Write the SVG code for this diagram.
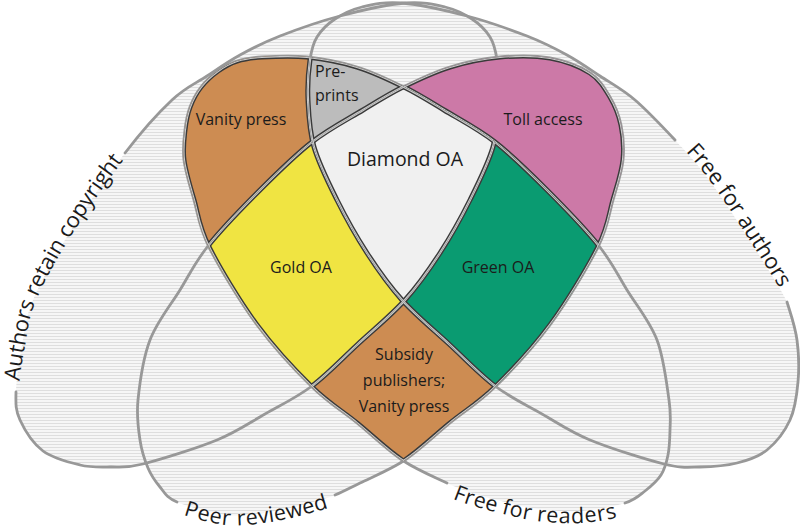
<svg xmlns="http://www.w3.org/2000/svg" width="800" height="529" viewBox="0 0 800 529">
<defs>
<style>
.ol{fill:none;stroke:#989898;stroke-width:2.8;stroke-linecap:round}
text{font-family:"Open Sans","Noto Sans","DejaVu Sans",sans-serif;fill:#1b1b1b}
.in{font-size:16px;text-anchor:middle}
.setA{font-size:22px;text-anchor:middle}
.setB{font-size:21.5px;text-anchor:middle}
</style>
<pattern id="hatch" width="8" height="3" patternUnits="userSpaceOnUse">
<rect width="8" height="3" fill="#f6f6f6"/><rect width="8" height="1" fill="#dedede"/>
</pattern>
<path id="pA" d="M16,392 C16.3,379.5 19.2,360.3 22,345 C24.8,329.7 25.3,318.3 33,300 C40.7,281.7 52.7,259.5 68,235 C83.3,210.5 107.7,175.5 125,153 C142.3,130.5 158.3,112.8 172,100 C185.7,87.2 195.7,83.5 207,76 C218.3,68.5 227.8,61.7 240,55 C252.2,48.3 263.3,42.5 280,36 C296.7,29.5 319.2,21.5 340,16 C360.8,10.5 387.5,4.5 405,3 C422.5,1.5 433.8,4.3 445,7 C456.2,9.7 464.5,14 472,19 C479.5,24 485.8,30.2 490,37 C494.2,43.8 495.5,49.5 497,60 C498.5,70.5 499.7,85.5 499,100 C498.3,114.5 497.8,130.3 493,147 C488.2,163.7 478.8,182.3 470,200 C461.2,217.7 450.8,236.3 440,253 C429.2,269.7 418.7,284.8 405,300 C391.3,315.2 373.5,329.7 358,344 C342.5,358.3 327.5,374.3 312,386 C296.5,397.7 280.8,405 265,414 C249.2,423 237.3,431.7 217,440 C196.7,448.3 160.8,459.5 143,464 C125.2,468.5 120.5,466.8 110,467 C99.5,467.2 91.2,467.7 80,465 C68.8,462.3 53,458.5 43,451 C33,443.5 24.5,429.8 20,420 C15.5,410.2 15.7,404.5 16,392 Z"/>
<path id="pB" d="M177,502 C188.2,506.7 211.5,513.3 227,515 C242.5,516.7 256.2,514 270,512 C283.8,510 299.2,505.8 310,503 C320.8,500.2 326.7,498.3 335,495 C343.3,491.7 348.3,488.8 360,483 C371.7,477.2 390,470 405,460 C420,450 435,435.2 450,423 C465,410.8 478.3,403.3 495,387 C511.7,370.7 532.8,348.3 550,325 C567.2,301.7 587.5,267.8 598,247 C608.5,226.2 608.8,214.5 613,200 C617.2,185.5 621.7,172.5 623,160 C624.3,147.5 623.2,135.5 621,125 C618.8,114.5 615.2,105.7 610,97 C604.8,88.3 600,79.5 590,73 C580,66.5 565,60.7 550,58 C535,55.3 516.7,55.5 500,57 C483.3,58.5 466.2,62 450,67 C433.8,72 417.5,79.8 403,87 C388.5,94.2 378.2,100.8 363,110 C347.8,119.2 329.2,128.7 312,142 C294.8,155.3 277.3,172.7 260,190 C242.7,207.3 221.3,229.3 208,246 C194.7,262.7 189.7,274.3 180,290 C170.3,305.7 157,321.7 150,340 C143,358.3 139.7,383.3 138,400 C136.3,416.7 138.3,428.7 140,440 C141.7,451.3 144.7,460.2 148,468 C151.3,475.8 155.2,481.3 160,487 C164.8,492.7 165.8,497.3 177,502 Z"/>
<path id="pC" d="M447,483 C458.7,488.5 463.7,490.2 472,493 C480.3,495.8 486,497.3 497,500 C508,502.7 523.8,507.2 538,509 C552.2,510.8 567.5,512 582,511 C596.5,510 614.5,506.3 625,503 C635.5,499.7 639,495.7 645,491 C651,486.3 657.2,481 661,475 C664.8,469 666.5,462.5 668,455 C669.5,447.5 669.8,439.2 670,430 C670.2,420.8 671.2,415 669,400 C666.8,385 664,358.3 657,340 C650,321.7 636.7,305.7 627,290 C617.3,274.3 612.3,262.7 599,246 C585.7,229.3 564.3,207.3 547,190 C529.7,172.7 512.2,155.3 495,142 C477.8,128.7 459.2,119.2 444,110 C428.8,100.8 418.5,94.2 404,87 C389.5,79.8 373.2,72 357,67 C340.8,62 322.8,58.7 307,57 C291.2,55.3 273.7,56.3 262,57 C250.3,57.7 244.3,58.7 237,61 C229.7,63.3 224,66.7 218,71 C212,75.3 205.7,81 201,87 C196.3,93 192.7,99.8 190,107 C187.3,114.2 186,121.2 185,130 C184,138.8 182.5,148.3 184,160 C185.5,171.7 189.8,185.5 194,200 C198.2,214.5 198.5,226.2 209,247 C219.5,267.8 239.8,301.7 257,325 C274.2,348.3 295.3,370.7 312,387 C328.7,403.3 342,410.8 357,423 C372,435.2 387,450 402,460 C417,470 435.3,477.5 447,483 Z"/>
<path id="pD" d="M675,140 C687,152.8 695.7,162 707,177 C718.3,192 729.7,209.2 743,230 C756.3,250.8 778,283.7 787,302 C792.5,319.5 795.2,326.7 797,340 C798.8,353.3 799.2,368.7 798,382 C796.8,395.3 795.2,408.7 790,420 C784.8,431.3 775.8,442.8 767,450 C758.2,457.2 748.2,460.2 737,463 C725.8,465.8 712.2,466.8 700,467 C687.8,467.2 682.3,468.5 664,464 C645.7,459.5 610.3,448.3 590,440 C569.7,431.7 557.8,423 542,414 C526.2,405 510.5,397.7 495,386 C479.5,374.3 464.5,358.3 449,344 C433.5,329.7 415.7,315.2 402,300 C388.3,284.8 377.8,269.7 367,253 C356.2,236.3 345.8,217.7 337,200 C328.2,182.3 318.8,163.7 314,147 C309.2,130.3 308.7,114.5 308,100 C307.3,85.5 308.5,70.5 310,60 C311.5,49.5 312.8,43.8 317,37 C321.2,30.2 327.5,24 335,19 C342.5,14 350.8,9.7 362,7 C373.2,4.3 384.5,1.5 402,3 C419.5,4.5 446.2,10.5 467,16 C487.8,21.5 510.3,29.5 527,36 C543.7,42.5 554.8,48.3 567,55 C579.2,61.7 588.7,68.5 600,76 C611.3,83.5 622.5,89.3 635,100 C647.5,110.7 663,127.2 675,140 Z"/>
<path id="lA" d="M16,392 C16.3,379.5 19.2,360.3 22,345 C24.8,329.7 25.3,318.3 33,300 C40.7,281.7 52.7,259.5 68,235 C83.3,210.5 107.7,175.5 125,153 C142.3,130.5 158.3,112.8 172,100"/>
<path id="lB" d="M177,502 C188.2,506.7 211.5,513.3 227,515 C242.5,516.7 256.2,514 270,512 C283.8,510 299.2,505.8 310,503 C320.8,500.2 326.7,498.3 335,495"/>
<path id="lC" d="M447,483 C458.7,488.5 463.7,490.2 472,493 C480.3,495.8 486,497.3 497,500 C508,502.7 523.8,507.2 538,509 C552.2,510.8 567.5,512 582,511 C596.5,510 614.5,506.3 625,503"/>
<path id="lD" d="M675,140 C687,152.8 695.7,162 707,177 C718.3,192 729.7,209.2 743,230 C756.3,250.8 778,283.7 787,302"/>
<clipPath id="cA"><use href="#pA"/></clipPath>
<clipPath id="cB"><use href="#pB"/></clipPath>
<clipPath id="cC"><use href="#pC"/></clipPath>
<clipPath id="cD"><use href="#pD"/></clipPath>
<g id="E4" fill="none">
<g stroke="#3a3a3a" stroke-width="5"><use href="#pA"/><use href="#pB"/><use href="#pC"/><use href="#pD"/></g>
<g stroke="#c8c8c8" stroke-width="2.2"><use href="#pA"/><use href="#pB"/><use href="#pC"/><use href="#pD"/></g>
</g>
<g id="E3" fill="none">
<g stroke="#3a3a3a" stroke-width="5"><use href="#pB"/><use href="#pC"/><use href="#pD"/></g>
<g stroke="#c8c8c8" stroke-width="2.2"><use href="#pB"/><use href="#pC"/><use href="#pD"/></g>
</g>
</defs>

<rect width="800" height="529" fill="#ffffff"/>

<g id="sets">
<g id="set-authors-retain-copyright"><use href="#pA" fill="url(#hatch)"/></g>
<g id="set-peer-reviewed"><use href="#pB" fill="url(#hatch)"/></g>
<g id="set-free-for-readers"><use href="#pC" fill="url(#hatch)"/></g>
<g id="set-free-for-authors"><use href="#pD" fill="url(#hatch)"/></g>
</g>

<g id="connectors">
<path class="ol" d="M125,153 C142.3,130.5 158.3,112.8 172,100 C185.7,87.2 195.7,83.5 207,76 C218.3,68.5 227.8,61.7 240,55 C252.2,48.3 263.3,42.5 280,36 C296.7,29.5 319.2,21.5 340,16 C360.8,10.5 387.5,4.5 405,3 C422.5,1.5 433.8,4.3 445,7 C456.2,9.7 464.5,14 472,19 C479.5,24 485.8,30.2 490,37 C494.2,43.8 495.5,49.5 497,60 C498.5,70.5 499.7,85.5 499,100 C498.3,114.5 497.8,130.3 493,147 C488.2,163.7 478.8,182.3 470,200 C461.2,217.7 450.8,236.3 440,253 C429.2,269.7 418.7,284.8 405,300 C391.3,315.2 373.5,329.7 358,344 C342.5,358.3 327.5,374.3 312,386 C296.5,397.7 280.8,405 265,414 C249.2,423 237.3,431.7 217,440 C196.7,448.3 160.8,459.5 143,464 C125.2,468.5 120.5,466.8 110,467 C99.5,467.2 91.2,467.7 80,465 C68.8,462.3 53,458.5 43,451 C33,443.5 24.5,429.8 20,420 C15.5,410.2 15.7,404.5 16,392"/>
<path class="ol" d="M335,495 C343.3,491.7 348.3,488.8 360,483 C371.7,477.2 390,470 405,460 C420,450 435,435.2 450,423 C465,410.8 478.3,403.3 495,387 C511.7,370.7 532.8,348.3 550,325 C567.2,301.7 587.5,267.8 598,247 C608.5,226.2 608.8,214.5 613,200 C617.2,185.5 621.7,172.5 623,160 C624.3,147.5 623.2,135.5 621,125 C618.8,114.5 615.2,105.7 610,97 C604.8,88.3 600,79.5 590,73 C580,66.5 565,60.7 550,58 C535,55.3 516.7,55.5 500,57 C483.3,58.5 466.2,62 450,67 C433.8,72 417.5,79.8 403,87 C388.5,94.2 378.2,100.8 363,110 C347.8,119.2 329.2,128.7 312,142 C294.8,155.3 277.3,172.7 260,190 C242.7,207.3 221.3,229.3 208,246 C194.7,262.7 189.7,274.3 180,290 C170.3,305.7 157,321.7 150,340 C143,358.3 139.7,383.3 138,400 C136.3,416.7 138.3,428.7 140,440 C141.7,451.3 144.7,460.2 148,468 C151.3,475.8 155.2,481.3 160,487 C164.8,492.7 165.8,497.3 177,502"/>
<path class="ol" d="M625,503 C635.5,499.7 639,495.7 645,491 C651,486.3 657.2,481 661,475 C664.8,469 666.5,462.5 668,455 C669.5,447.5 669.8,439.2 670,430 C670.2,420.8 671.2,415 669,400 C666.8,385 664,358.3 657,340 C650,321.7 636.7,305.7 627,290 C617.3,274.3 612.3,262.7 599,246 C585.7,229.3 564.3,207.3 547,190 C529.7,172.7 512.2,155.3 495,142 C477.8,128.7 459.2,119.2 444,110 C428.8,100.8 418.5,94.2 404,87 C389.5,79.8 373.2,72 357,67 C340.8,62 322.8,58.7 307,57 C291.2,55.3 273.7,56.3 262,57 C250.3,57.7 244.3,58.7 237,61 C229.7,63.3 224,66.7 218,71 C212,75.3 205.7,81 201,87 C196.3,93 192.7,99.8 190,107 C187.3,114.2 186,121.2 185,130 C184,138.8 182.5,148.3 184,160 C185.5,171.7 189.8,185.5 194,200 C198.2,214.5 198.5,226.2 209,247 C219.5,267.8 239.8,301.7 257,325 C274.2,348.3 295.3,370.7 312,387 C328.7,403.3 342,410.8 357,423 C372,435.2 387,450 402,460 C417,470 435.3,477.5 447,483"/>
<path class="ol" d="M787,302 C792.5,319.5 795.2,326.7 797,340 C798.8,353.3 799.2,368.7 798,382 C796.8,395.3 795.2,408.7 790,420 C784.8,431.3 775.8,442.8 767,450 C758.2,457.2 748.2,460.2 737,463 C725.8,465.8 712.2,466.8 700,467 C687.8,467.2 682.3,468.5 664,464 C645.7,459.5 610.3,448.3 590,440 C569.7,431.7 557.8,423 542,414 C526.2,405 510.5,397.7 495,386 C479.5,374.3 464.5,358.3 449,344 C433.5,329.7 415.7,315.2 402,300 C388.3,284.8 377.8,269.7 367,253 C356.2,236.3 345.8,217.7 337,200 C328.2,182.3 318.8,163.7 314,147 C309.2,130.3 308.7,114.5 308,100 C307.3,85.5 308.5,70.5 310,60 C311.5,49.5 312.8,43.8 317,37 C321.2,30.2 327.5,24 335,19 C342.5,14 350.8,9.7 362,7 C373.2,4.3 384.5,1.5 402,3 C419.5,4.5 446.2,10.5 467,16 C487.8,21.5 510.3,29.5 527,36 C543.7,42.5 554.8,48.3 567,55 C579.2,61.7 588.7,68.5 600,76 C611.3,83.5 622.5,89.3 635,100 C647.5,110.7 663,127.2 675,140"/>
</g>

<g id="set-labels">
<text class="setA" dy="3"><textPath href="#lA" startOffset="136">Authors retain copyright</textPath></text>
<text class="setA" dy="0"><textPath href="#lD" startOffset="50%">Free for authors</textPath></text>
<text class="setB" dy="10"><textPath href="#lB" startOffset="50%">Peer reviewed</textPath></text>
<text class="setB" dy="12"><textPath href="#lC" startOffset="50%">Free for readers</textPath></text>
</g>

<g id="toll-access">
<g clip-path="url(#cB)"><g clip-path="url(#cD)"><rect width="800" height="529" fill="#cc79a7"/><use href="#E3"/></g></g>
<text class="in" x="543" y="125">Toll access</text>
</g>
<g id="vanity-press">
<g clip-path="url(#cA)"><g clip-path="url(#cC)"><rect width="800" height="529" fill="#cd8c52"/><use href="#E4"/></g></g>
<text class="in" x="241" y="125">Vanity press</text>
</g>
<g id="subsidy-publishers">
<g clip-path="url(#cB)"><g clip-path="url(#cC)"><rect width="800" height="529" fill="#cd8c52"/><use href="#E4"/></g></g>
<text class="in"><tspan x="404" y="360">Subsidy</tspan><tspan x="404" y="386">publishers;</tspan><tspan x="404" y="412">Vanity press</tspan></text>
</g>
<g id="gold-oa">
<g clip-path="url(#cA)"><g clip-path="url(#cB)"><g clip-path="url(#cC)"><rect width="800" height="529" fill="#f0e442"/><use href="#E4"/></g></g></g>
<text class="in" x="301" y="273">Gold OA</text>
</g>
<g id="green-oa">
<g clip-path="url(#cB)"><g clip-path="url(#cC)"><g clip-path="url(#cD)"><rect width="800" height="529" fill="#0a9b71"/><use href="#E4"/></g></g></g>
<text class="in" x="498" y="273">Green OA</text>
</g>
<g id="pre-prints">
<g clip-path="url(#cA)"><g clip-path="url(#cC)"><g clip-path="url(#cD)"><rect width="800" height="529" fill="#bcbcbc"/><use href="#E4"/></g></g></g>
<text class="in" style="text-anchor:start"><tspan x="315" y="77">Pre-</tspan><tspan x="315" y="101">prints</tspan></text>
</g>
<g id="diamond-oa">
<g clip-path="url(#cA)"><g clip-path="url(#cB)"><g clip-path="url(#cC)"><g clip-path="url(#cD)"><rect width="800" height="529" fill="#f0f0f0"/><use href="#E4"/></g></g></g></g>
<text class="in" x="405" y="166" style="font-size:19.5px">Diamond OA</text>
</g>
</svg>
